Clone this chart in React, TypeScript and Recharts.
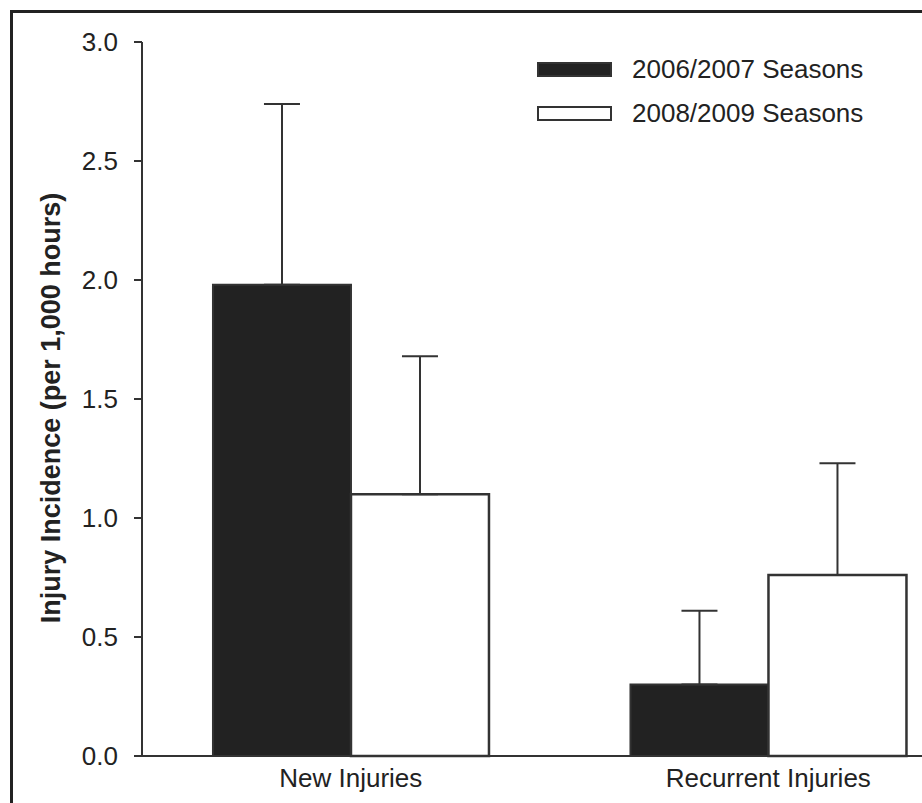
import { Bar, BarChart, ErrorBar, Legend, XAxis, YAxis } from "recharts";

const categories = ["New Injuries", "Recurrent Injuries"];
const season0607 = [1.98, 0.3];
const season0809 = [1.1, 0.76];
const err0607 = [0.76, 0.31];
const err0809 = [0.58, 0.47];
const yTicks = [0, 0.5, 1, 1.5, 2, 2.5, 3];

const seriesNames = ["2006/2007 Seasons", "2008/2009 Seasons"];

const data = categories.map((name, i) => ({
  name,
  s0607: season0607[i],
  s0809: season0809[i],
  // only the upper whisker is drawn in the original figure
  e0607: [0, err0607[i]],
  e0809: [0, err0809[i]],
}));

const font = '"Liberation Sans", Arial, sans-serif';
const ink = "#333";

function LegendBox({ payload }: { payload?: any[] }) {
  return (
    <div style={{ fontFamily: font, fontSize: 26, color: "#222" }}>
      {(payload ?? []).map((entry) => (
        <div
          key={entry.value}
          style={{ display: "flex", alignItems: "center", height: 44 }}
        >
          <span
            style={{
              display: "inline-block",
              width: 71,
              height: 11,
              marginRight: 20,
              background: entry.payload?.fill ?? entry.color,
              border: `2px solid ${ink}`,
            }}
          />
          <span>{entry.value}</span>
        </div>
      ))}
    </div>
  );
}

export default function App() {
  return (
    <div
      style={{
        position: "absolute",
        top: 0,
        left: 0,
        width: 922,
        height: 803,
        overflow: "hidden",
        background: "#fff",
      }}
    >
      <div
        style={{
          position: "absolute",
          left: 10,
          top: 10,
          width: 1000,
          height: 900,
          borderTop: "3px solid #222",
          borderLeft: "3px solid #222",
        }}
      />
      <BarChart
        width={1000}
        height={803}
        data={data}
        margin={{ top: 42, right: 23, left: 0, bottom: 7 }}
        barCategoryGap="17%"
        barGap={0}
        style={{ position: "absolute", top: 0, left: 0 }}
      >
        <XAxis
          dataKey="name"
          tickLine={false}
          tickSize={0}
          tickMargin={13}
          height={40}
          axisLine={{ stroke: ink, strokeWidth: 2 }}
          tick={{ fill: "#222", fontSize: 26, fontFamily: font }}
        />
        <YAxis
          domain={[0, 3]}
          ticks={yTicks}
          width={142}
          tickSize={8}
          tickMargin={16}
          tickFormatter={(v: number) => v.toFixed(1)}
          axisLine={{ stroke: ink, strokeWidth: 2 }}
          tickLine={{ stroke: ink, strokeWidth: 2 }}
          tick={{ fill: "#222", fontSize: 26, fontFamily: font }}
          label={{
            value: "Injury Incidence (per 1,000 hours)",
            angle: -90,
            position: "center",
            dx: -21,
            dy: 9,
            style: { fontSize: 27, fontWeight: "bold", fontFamily: font, fill: "#222" },
          }}
        />
        <Legend
          layout="horizontal"
          verticalAlign="middle"
          content={<LegendBox />}
          wrapperStyle={{ top: 47, left: 537, width: 380 }}
        />
        <Bar
          dataKey="s0607"
          name={seriesNames[0]}
          fill="#222"
          stroke={ink}
          strokeWidth={2}
          isAnimationActive={false}
        >
          <ErrorBar dataKey="e0607" width={18} stroke={ink} strokeWidth={2} direction="y" />
        </Bar>
        <Bar
          dataKey="s0809"
          name={seriesNames[1]}
          fill="#fff"
          stroke={ink}
          strokeWidth={2.5}
          isAnimationActive={false}
        >
          <ErrorBar dataKey="e0809" width={18} stroke={ink} strokeWidth={2} direction="y" />
        </Bar>
      </BarChart>
    </div>
  );
}
